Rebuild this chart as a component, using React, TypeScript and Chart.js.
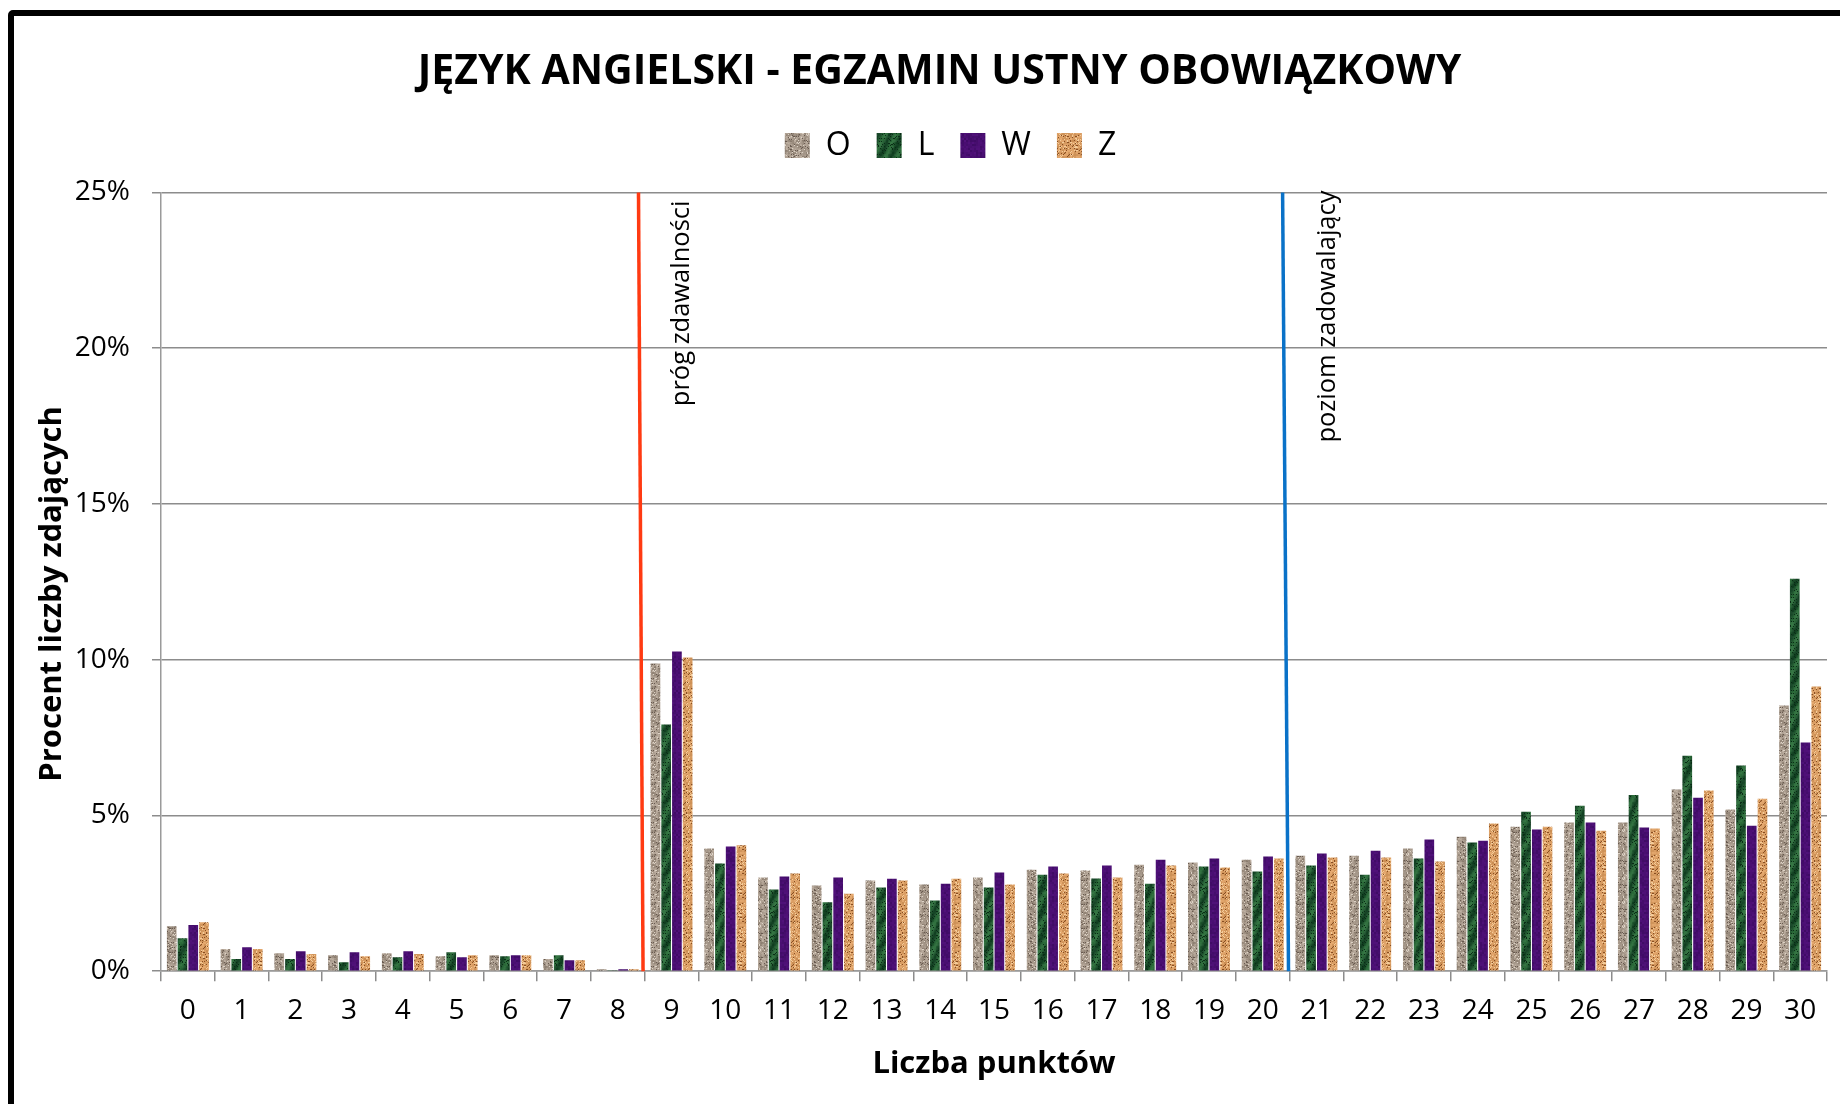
import React, { useEffect, useRef } from 'react';
import { Chart, registerables, layouts } from 'chart.js';

Chart.register(...registerables);

// ---------- data ----------
const categories = ['0', '1', '2', '3', '4', '5', '6', '7', '8', '9', '10', '11', '12', '13', '14', '15', '16', '17', '18', '19', '20', '21', '22', '23', '24', '25', '26', '27', '28', '29', '30'];
const seriesNames = ['O', 'L', 'W', 'Z'];
const valuesO = [1.44, 0.71, 0.58, 0.51, 0.58, 0.48, 0.51, 0.39, 0.06, 9.88, 3.94, 3.01, 2.75, 2.91, 2.78, 3.01, 3.26, 3.23, 3.42, 3.49, 3.58, 3.71, 3.71, 3.94, 4.32, 4.64, 4.77, 4.77, 5.83, 5.19, 8.53];
const valuesL = [1.06, 0.39, 0.39, 0.29, 0.45, 0.61, 0.48, 0.51, 0.03, 7.92, 3.46, 2.62, 2.21, 2.69, 2.27, 2.69, 3.10, 2.98, 2.81, 3.36, 3.20, 3.39, 3.10, 3.62, 4.13, 5.12, 5.31, 5.66, 6.92, 6.60, 12.6];
const valuesW = [1.48, 0.77, 0.64, 0.61, 0.64, 0.45, 0.51, 0.35, 0.06, 10.26, 4.00, 3.04, 3.01, 2.97, 2.81, 3.17, 3.36, 3.39, 3.58, 3.62, 3.68, 3.78, 3.87, 4.23, 4.19, 4.55, 4.77, 4.61, 5.57, 4.67, 7.34];
const valuesZ = [1.57, 0.71, 0.55, 0.48, 0.55, 0.51, 0.51, 0.35, 0.06, 10.07, 4.04, 3.14, 2.49, 2.91, 2.97, 2.78, 3.14, 3.01, 3.39, 3.33, 3.62, 3.65, 3.65, 3.52, 4.74, 4.64, 4.51, 4.58, 5.80, 5.54, 9.14];
const yMin = 0;
const yMax = 25;
const yStep = 5;
const chartTitle = 'JĘZYK ANGIELSKI - EGZAMIN USTNY OBOWIĄZKOWY';
const xTitle = 'Liczba punktów';
const yTitle = 'Procent liczby zdających';
// threshold markers (positions in category-index units on the x axis)
const thresholdNames = ['próg zdawalności', 'poziom zadowalający'];
const thresholdTopIndex = [8.385, 20.37];
const thresholdBottomIndex = [8.47, 20.48];

// ---------- styles ----------
const FONT = "'Open Sans', 'DejaVu Sans', sans-serif";
const thresholdColors = ['#FF3A12', '#0A72C8'];
const thresholdTextDx = [43, 45];
const thresholdTextDy = [8, -2];

function hash(x: number, y: number, s: number) {
  const v = Math.sin(x * 127.1 + y * 311.7 + s * 74.7) * 43758.5453;
  return v - Math.floor(v);
}

function clamp(v: number) {
  return Math.max(0, Math.min(255, Math.round(v)));
}

function makeTexture(kind: string): CanvasPattern | string {
  const size = 24;
  const c = document.createElement('canvas');
  c.width = size;
  c.height = size;
  const ctx = c.getContext('2d');
  if (!ctx) return '#888';
  const img = ctx.createImageData(size, size);
  for (let y = 0; y < size; y++) {
    for (let x = 0; x < size; x++) {
      const n = hash(x, y, kind.charCodeAt(0));
      const m = hash(Math.floor(x / 2), Math.floor(y / 2), kind.charCodeAt(0) + 3);
      let r = 0, g = 0, b = 0;
      if (kind === 'O') {
        r = 166; g = 152; b = 138;
        const d = (m - 0.5) * 44 + (n - 0.5) * 20;
        r += d; g += d; b += d;
        if (n < 0.1) { r = 104; g = 90; b = 80; }
        else if (n > 0.93) { r = 220; g = 210; b = 198; }
      } else if (kind === 'L') {
        const streak = Math.sin((x * 0.5 + y * 0.28)) * 0.5 + 0.5;
        r = 20 + streak * 28; g = 66 + streak * 46; b = 36 + streak * 26;
        const d = (m - 0.5) * 16;
        r += d; g += d; b += d;
        if (n < 0.12) { r = 10; g = 44; b = 22; }
      } else if (kind === 'W') {
        r = 72; g = 14; b = 112;
        const d = (m - 0.5) * 18;
        r += d; g += d * 0.4; b += d * 1.2;
      } else {
        r = 216; g = 156; b = 98;
        const d = (m - 0.5) * 30;
        r += d; g += d; b += d;
        if (n < 0.1) { r = 136; g = 78; b = 34; }
        else if (n > 0.88) { r = 244; g = 204; b = 154; }
      }
      const i = (y * size + x) * 4;
      img.data[i] = clamp(r);
      img.data[i + 1] = clamp(g);
      img.data[i + 2] = clamp(b);
      img.data[i + 3] = 255;
    }
  }
  ctx.putImageData(img, 0, 0);
  const pctx = document.createElement('canvas').getContext('2d');
  const pat = pctx ? pctx.createPattern(c, 'repeat') : null;
  return pat || '#888';
}

const topGapPlugin = {
  id: 'topGap',
  beforeInit(chart: any) {
    layouts.addBox(chart, {
      id: 'gapBox',
      position: 'top',
      weight: -10,
      fullSize: true,
      options: { stackWeight: 1 },
      left: 0, top: 0, right: 0, bottom: 0, width: 0, height: 0,
      isHorizontal() { return true; },
      update(maxWidth: number) { (this as any).width = maxWidth; (this as any).height = 21; },
      draw() {},
    } as any);
  },
};

const shiftPlugin = {
  id: 'shiftTop',
  afterLayout(chart: any) {
    if (chart.titleBlock) { chart.titleBlock.left += 19; chart.titleBlock.right += 19; }
    if (chart.legend) { chart.legend.left += 30; chart.legend.right += 30; }
  },
};

const thresholdPlugin = {
  id: 'thresholds',
  afterDatasetsDraw(chart: any) {
    const { ctx, scales } = chart;
    const xs = scales.x;
    const ys = scales.y;
    ctx.save();
    thresholdNames.forEach((name, i) => {
      const xTop = xs.getPixelForValue(thresholdTopIndex[i]);
      const xBot = xs.getPixelForValue(thresholdBottomIndex[i]);
      const yTop = ys.getPixelForValue(yMax);
      const yBot = ys.getPixelForValue(yMin);
      ctx.beginPath();
      ctx.strokeStyle = thresholdColors[i];
      ctx.lineWidth = 3.5;
      ctx.moveTo(xTop, yTop);
      ctx.lineTo(xBot, yBot);
      ctx.stroke();
      ctx.save();
      ctx.translate(xTop + thresholdTextDx[i], yTop + thresholdTextDy[i]);
      ctx.rotate(-Math.PI / 2);
      ctx.fillStyle = '#000';
      ctx.font = `25.5px ${FONT}`;
      ctx.textAlign = 'right';
      ctx.textBaseline = 'middle';
      ctx.fillText(name, 0, 0);
      ctx.restore();
    });
    ctx.restore();
  },
};

export default function App() {
  const ref = useRef<HTMLCanvasElement | null>(null);

  useEffect(() => {
    if (!ref.current) return;
    const textures = seriesNames.map((s) => makeTexture(s));
    const seriesValues = [valuesO, valuesL, valuesW, valuesZ];
    const chart = new Chart(ref.current, {
      type: 'bar',
      data: {
        labels: categories,
        datasets: seriesNames.map((name, i) => ({
          label: name,
          data: seriesValues[i],
          backgroundColor: textures[i] as any,
          borderWidth: 0,
          categoryPercentage: 0.8,
          barPercentage: 0.9,
        })),
      },
      options: {
        responsive: false,
        animation: false,
        events: [],
        devicePixelRatio: 1,
        layout: { padding: { left: 14, right: 13, top: 0, bottom: 21 } },
        font: { family: FONT },
        plugins: {
          title: {
            display: true,
            text: chartTitle,
            color: '#000',
            font: { family: FONT, size: 41, weight: 'bold' },
            padding: { top: 47.5, bottom: 6.8 },
          },
          legend: {
            display: true,
            position: 'top',
            labels: {
              boxWidth: 25,
              boxHeight: 25,
              padding: 26,
              color: '#000',
              font: { family: FONT, size: 32 },
            },
          },
          tooltip: { enabled: false },
        },
        scales: {
          x: {
            offset: true,
            grid: {
              display: true,
              drawOnChartArea: false,
              drawTicks: true,
              tickLength: 10,
              color: '#8c8c8c',
              lineWidth: 1.5,
              offset: true,
            },
            border: { display: true, color: '#9a9a9a', width: 1.5 },
            ticks: {
              color: '#000',
              font: { family: FONT, size: 28 },
              padding: 13.5,
              maxRotation: 0,
              autoSkip: false,
            },
            title: {
              display: true,
              text: xTitle,
              color: '#000',
              font: { family: FONT, size: 31, weight: 'bold' },
              padding: { top: 4, bottom: 0 },
            },
          },
          y: {
            min: yMin,
            max: yMax,
            afterFit: (scale: any) => { scale.width = 147; },
            grid: {
              color: '#8c8c8c',
              lineWidth: 1.5,
              drawTicks: true,
              tickLength: 9,
            },
            border: { display: true, color: '#9a9a9a', width: 1.5 },
            ticks: {
              stepSize: yStep,
              color: '#000',
              font: { family: FONT, size: 28 },
              padding: 22,
              callback: (v: any) => `${v}%`,
            },
            title: {
              display: true,
              text: yTitle + '   ',
              color: '#000',
              font: { family: FONT, size: 31, weight: 'bold' },
              padding: { top: 20, bottom: 0 },
            },
          },
        },
      },
      plugins: [topGapPlugin, shiftPlugin, thresholdPlugin],
    } as any);
    return () => chart.destroy();
  }, []);

  return (
    <div style={{ position: 'fixed', left: 0, top: 0, width: 1840, height: 1104, overflow: 'hidden', background: '#fff' }}>
      <canvas ref={ref} width={1840} height={1104} style={{ position: 'absolute', left: 0, top: 0, width: 1840, height: 1104 }} />
      <div style={{ position: 'absolute', left: 8, top: 10, width: 1900, height: 1200, border: '6px solid #000', borderRadius: 5, pointerEvents: 'none' }} />
    </div>
  );
}
